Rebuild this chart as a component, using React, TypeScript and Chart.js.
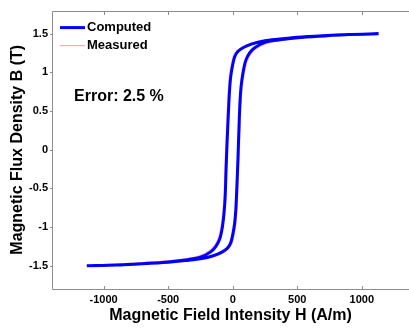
import React, { useEffect, useRef } from "react";
import { Chart, registerables } from "chart.js";

Chart.register(...registerables);

// Computed loop: descending branch (from +Hmax to -Hmax)
const computedDescH = [1130, 900, 700, 500, 350, 250, 150, 80, 40, 15, 0, -15, -25, -34, -42, -48, -53, -58, -67, -80, -100, -130, -170, -250, -350, -500, -700, -900, -1130];
const computedDescB = [1.5, 1.49, 1.475, 1.455, 1.43, 1.41, 1.37, 1.32, 1.27, 1.2, 1.1, 0.95, 0.75, 0.45, 0.15, -0.1, -0.35, -0.6, -0.82, -1.0, -1.15, -1.25, -1.32, -1.39, -1.42, -1.45, -1.472, -1.49, -1.5];
// Computed loop: ascending branch (from -Hmax to +Hmax)
const computedAscH = [-1130, -900, -700, -500, -350, -250, -150, -80, -40, -15, 0, 15, 25, 33, 40, 45, 50, 56, 65, 80, 100, 130, 170, 250, 350, 500, 700, 900, 1130];
const computedAscB = [-1.5, -1.49, -1.475, -1.455, -1.43, -1.41, -1.37, -1.32, -1.27, -1.2, -1.1, -0.95, -0.75, -0.45, -0.15, 0.1, 0.35, 0.6, 0.82, 1.0, 1.15, 1.25, 1.32, 1.39, 1.42, 1.45, 1.472, 1.49, 1.5];

// Measured loop
const measuredDescH = [1130, 900, 700, 500, 350, 250, 150, 78, 36, 10, -5, -19, -29, -38, -46, -52, -57, -62, -72, -86, -106, -136, -176, -256, -355, -505, -705, -905, -1130];
const measuredDescB = [1.5, 1.488, 1.472, 1.452, 1.428, 1.408, 1.372, 1.325, 1.275, 1.21, 1.11, 0.96, 0.76, 0.46, 0.15, -0.1, -0.35, -0.6, -0.82, -0.99, -1.14, -1.24, -1.31, -1.38, -1.415, -1.445, -1.468, -1.488, -1.5];
const measuredAscH = [-1130, -900, -700, -500, -350, -250, -150, -78, -36, -10, 5, 19, 29, 37, 44, 49, 54, 60, 70, 86, 106, 136, 176, 256, 355, 505, 705, 905, 1130];
const measuredAscB = [-1.5, -1.488, -1.472, -1.452, -1.428, -1.408, -1.372, -1.325, -1.275, -1.21, -1.11, -0.96, -0.76, -0.46, -0.15, 0.1, 0.35, 0.6, 0.82, 0.99, 1.14, 1.24, 1.31, 1.38, 1.415, 1.445, 1.468, 1.488, 1.5];

const xTicks = [-1000, -500, 0, 500, 1000];
const yTicks = [-1.5, -1, -0.5, 0, 0.5, 1, 1.5];
const xRange = [-1400, 1366];
const yRange = [-1.8, 1.8];

const seriesNames = ["Computed", "Measured"];
const errorLabel = "Error: 2.5 %";
const xTitle = "Magnetic Field Intensity H (A/m)";
const yTitle = "Magnetic Flux Density B (T)";

const FONT = "'Liberation Sans', Arial, Helvetica, sans-serif";
const AXIS_COLOR = "#8c8c8c";
const COMPUTED_COLOR = "#0000ff";
const MEASURED_COLOR = "rgba(255,140,140,0.75)";

function toPoints(hs: number[], bs: number[]) {
  return hs.map((h, i) => ({ x: h, y: bs[i] }));
}

const boxPlugin = {
  id: "boxAxes",
  beforeDatasetsDraw(chart: any) {
    const { ctx, chartArea } = chart;
    const { left, right, top, bottom } = chartArea;
    const xs = chart.scales.x;
    const ys = chart.scales.y;
    ctx.save();
    ctx.strokeStyle = AXIS_COLOR;
    ctx.lineWidth = 1;
    ctx.beginPath();
    ctx.moveTo(Math.round(left) + 0.5, Math.round(top) + 0.5);
    ctx.lineTo(Math.round(left) + 0.5, Math.round(bottom) + 0.5);
    ctx.lineTo(right, Math.round(bottom) + 0.5);
    ctx.moveTo(Math.round(left) + 0.5, Math.round(top) + 0.5);
    ctx.lineTo(right, Math.round(top) + 0.5);
    for (const v of xTicks) {
      const px = Math.round(xs.getPixelForValue(v)) + 0.5;
      ctx.moveTo(px, Math.round(bottom));
      ctx.lineTo(px, Math.round(bottom) - 3);
      ctx.moveTo(px, Math.round(top) + 1);
      ctx.lineTo(px, Math.round(top) + 4);
    }
    for (const v of yTicks) {
      const py = Math.round(ys.getPixelForValue(v)) + 0.5;
      ctx.moveTo(Math.round(left) - 2, py);
      ctx.lineTo(Math.round(left) + 1, py);
    }
    ctx.stroke();
    ctx.restore();
  },
  afterDatasetsDraw(chart: any) {
    const { ctx, chartArea } = chart;
    const { left, top } = chartArea;
    ctx.save();
    const lx0 = left + 8;
    const lx1 = left + 33;
    const rows = [
      { y: top + 17, color: COMPUTED_COLOR, width: 3, name: seriesNames[0] },
      { y: top + 35, color: MEASURED_COLOR, width: 1.2, name: seriesNames[1] },
    ];
    ctx.font = `bold 13px ${FONT}`;
    ctx.textBaseline = "middle";
    ctx.textAlign = "left";
    for (const r of rows) {
      ctx.strokeStyle = r.color;
      ctx.lineWidth = r.width;
      ctx.beginPath();
      ctx.moveTo(lx0, r.y);
      ctx.lineTo(lx1, r.y);
      ctx.stroke();
      ctx.fillStyle = "#000";
      ctx.fillText(r.name, lx1 + 2, r.y);
    }
    ctx.font = `bold 16px ${FONT}`;
    ctx.fillStyle = "#000";
    ctx.fillText(errorLabel, left + 22, top + 86);
    ctx.restore();
  },
};

export default function App() {
  const canvasRef = useRef<HTMLCanvasElement | null>(null);

  useEffect(() => {
    if (!canvasRef.current) return;
    const computed = [
      ...toPoints(computedDescH, computedDescB),
      ...toPoints(computedAscH, computedAscB),
    ];
    const measured = [
      ...toPoints(measuredDescH, measuredDescB),
      ...toPoints(measuredAscH, measuredAscB),
    ];
    const chart = new Chart(canvasRef.current, {
      type: "line",
      data: {
        datasets: [
          {
            label: seriesNames[0],
            data: computed,
            borderColor: COMPUTED_COLOR,
            borderWidth: 3,
            pointRadius: 0,
            tension: 0.3,
            fill: false,
          },
          {
            label: seriesNames[1],
            data: measured,
            borderColor: MEASURED_COLOR,
            borderWidth: 2.5,
            pointRadius: 0,
            tension: 0.3,
            fill: false,
          },
        ],
      },
      options: {
        responsive: false,
        animation: false,
        events: [],
        layout: { padding: { top: 7, right: 0, left: 0, bottom: 0 } },
        plugins: {
          legend: { display: false },
          tooltip: { enabled: false },
        },
        scales: {
          x: {
            type: "linear",
            min: xRange[0],
            max: xRange[1],
            border: { display: false },
            grid: { display: false, drawTicks: false },
            afterBuildTicks: (scale: any) => {
              scale.ticks = xTicks.map((v) => ({ value: v }));
            },
            afterFit: (scale: any) => {
              scale.height = 44;
            },
            ticks: {
              padding: 4,
              color: "#000",
              font: { family: FONT, size: 11, weight: "bold" },
              callback: (v: any) => String(v),
              maxRotation: 0,
            },
            title: {
              display: true,
              text: xTitle,
              color: "#000",
              font: { family: FONT, size: 16, weight: "bold" },
              padding: { top: 0, bottom: 8 },
            },
          },
          y: {
            type: "linear",
            min: yRange[0],
            max: yRange[1],
            border: { display: false },
            grid: { display: false, drawTicks: false },
            afterBuildTicks: (scale: any) => {
              scale.ticks = yTicks.map((v) => ({ value: v }));
            },
            afterFit: (scale: any) => {
              scale.width = 52;
            },
            ticks: {
              padding: 4,
              color: "#000",
              font: { family: FONT, size: 11, weight: "bold" },
              callback: (v: any) => String(v),
            },
            title: {
              display: true,
              text: yTitle,
              color: "#000",
              font: { family: FONT, size: 16, weight: "bold" },
              padding: { top: 8, bottom: 0 },
            },
          },
        },
      },
      plugins: [boxPlugin],
    } as any);
    return () => chart.destroy();
  }, []);

  return (
    <div style={{ position: "fixed", left: 0, top: 0, width: 409, height: 333, background: "#fff" }}>
      <canvas ref={canvasRef} width={409} height={333} style={{ display: "block" }} />
    </div>
  );
}
